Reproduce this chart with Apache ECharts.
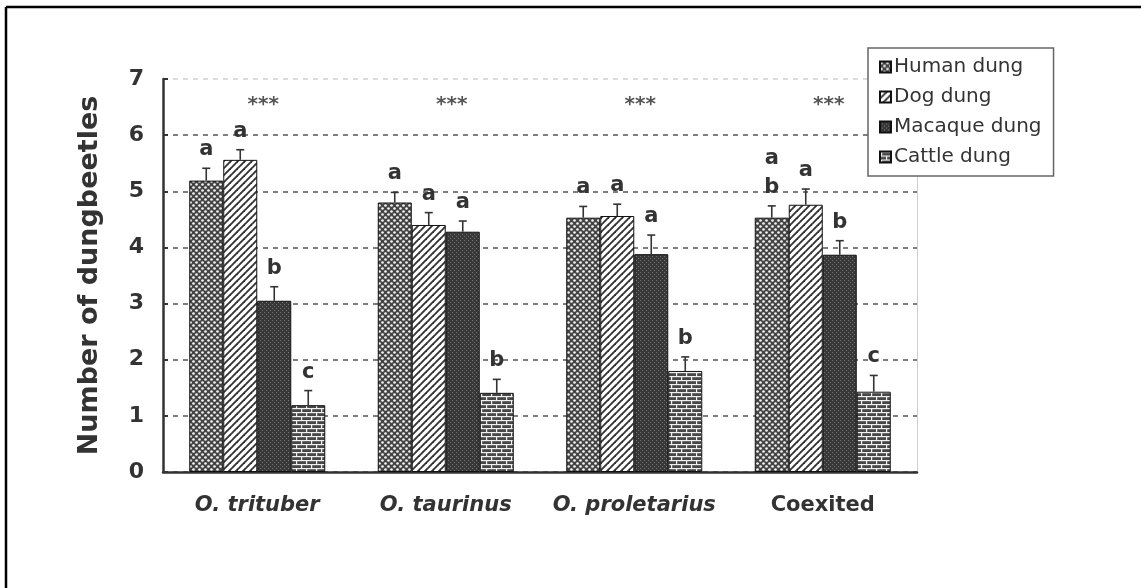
<!DOCTYPE html>
<html>
<head>
<meta charset="utf-8">
<title>Dung preference of dungbeetles</title>
<script src="https://cdn.jsdelivr.net/npm/echarts@6/dist/echarts.min.js"></script>
<style>
  html, body { margin: 0; padding: 0; background: #fff; }
  #chart { width: 1141px; height: 588px; }
</style>
</head>
<body>
<div id="chart"></div>
<script>
// ---- data ----
const categories = ['O. trituber', 'O. taurinus', 'O. proletarius', 'Coexited'];
const seriesNames = ['Human dung', 'Dog dung', 'Macaque dung', 'Cattle dung'];

const humanMean   = [5.19, 4.80, 4.53, 4.53];
const humanErr    = [0.22, 0.18, 0.20, 0.21];
const dogMean     = [5.56, 4.40, 4.56, 4.76];
const dogErr      = [0.18, 0.22, 0.21, 0.28];
const macaqueMean = [3.05, 4.28, 3.88, 3.87];
const macaqueErr  = [0.25, 0.19, 0.34, 0.25];
const cattleMean  = [1.19, 1.41, 1.80, 1.43];
const cattleErr   = [0.26, 0.24, 0.25, 0.29];

const humanLetters   = ['a', 'a', 'a', 'a\nb'];
const dogLetters     = ['a', 'a', 'a', 'a'];
const macaqueLetters = ['b', 'a', 'a', 'b'];
const cattleLetters  = ['c', 'b', 'b', 'c'];

const sigMarks = ['***', '***', '***', '***'];
const sigLevel = 6.57;

const yTicks = { min: 0, max: 7, step: 1 };

// ---- fill patterns ----
function tile(w, h, draw) {
  const c = document.createElement('canvas');
  c.width = w; c.height = h;
  draw(c.getContext('2d'), w, h);
  return { image: c, repeat: 'repeat' };
}
const dotted = tile(6, 6, (g, w, h) => {
  g.fillStyle = '#444'; g.fillRect(0, 0, w, h);
  g.fillStyle = '#f2f2f2';
  g.beginPath(); g.arc(1.5, 1.5, 1.35, 0, Math.PI * 2); g.fill();
  g.beginPath(); g.arc(4.5, 4.5, 1.35, 0, Math.PI * 2); g.fill();
});
const striped = tile(7, 7, (g, w, h) => {
  g.fillStyle = '#ffffff'; g.fillRect(0, 0, w, h);
  g.strokeStyle = '#333'; g.lineWidth = 1.9;
  for (const k of [0, 7, 14]) {
    g.beginPath(); g.moveTo(k - 7 - 1, 7 + 1); g.lineTo(k + 1, -1); g.stroke();
  }
});
const dense = tile(4, 4, (g, w, h) => {
  g.fillStyle = '#383838'; g.fillRect(0, 0, w, h);
  g.fillStyle = '#777';
  g.fillRect(0, 0, 1, 1); g.fillRect(2, 2, 1, 1);
});
const brick = tile(10, 8, (g, w, h) => {
  g.fillStyle = '#474747'; g.fillRect(0, 0, w, h);
  g.fillStyle = '#f0f0f0';
  g.fillRect(0, 0, w, 1.2); g.fillRect(0, 4, w, 1.2);
  g.fillRect(1, 0, 1.2, 4); g.fillRect(6, 4, 1.2, 4);
});
const patterns = [dotted, striped, dense, brick];

// ---- series ----
const BAR_W = 34;
const means = [humanMean, dogMean, macaqueMean, cattleMean];
const errs = [humanErr, dogErr, macaqueErr, cattleErr];
const letters = [humanLetters, dogLetters, macaqueLetters, cattleLetters];
const TEXT = '#333';

const barSeries = seriesNames.map((name, s) => ({
  name,
  type: 'bar',
  data: means[s],
  barWidth: BAR_W,
  barGap: '0%',
  itemStyle: { color: patterns[s], borderColor: '#111', borderWidth: 1 },
  emphasis: { disabled: true },
  z: 2
}));

const errSeries = seriesNames.map((name, s) => ({
  type: 'custom',
  z: 5,
  silent: true,
  data: means[s].map((m, i) => [i, m, errs[s][i]]),
  encode: { x: 0, y: 1 },
  renderItem(params, api) {
    const ci = api.value(0), m = api.value(1), e = api.value(2);
    const base = api.coord([ci, m]);
    const top = api.coord([ci, m + e]);
    const x = base[0] + (s - 1.5) * BAR_W;
    return {
      type: 'group',
      children: [
        { type: 'line', shape: { x1: x, y1: base[1], x2: x, y2: top[1] },
          style: { stroke: '#333', lineWidth: 1.6 } },
        { type: 'line', shape: { x1: x - 4, y1: top[1], x2: x + 4, y2: top[1] },
          style: { stroke: '#333', lineWidth: 1.6 } },
        { type: 'text', x: x, y: top[1] - 4,
          style: { text: letters[s][params.dataIndex], fill: TEXT,
                   font: 'bold 21px "DejaVu Sans"', lineHeight: 29,
                   align: 'center', verticalAlign: 'bottom' } }
      ]
    };
  }
}));

const sigSeries = {
  type: 'custom',
  z: 5,
  silent: true,
  data: sigMarks.map((t, i) => [i, sigLevel]),
  encode: { x: 0, y: 1 },
  renderItem(params, api) {
    const p = api.coord([api.value(0), api.value(1)]);
    return { type: 'text', x: p[0] + 6, y: p[1] + 2,
      style: { text: sigMarks[params.dataIndex], fill: '#555',
               font: 'bold 20px "DejaVu Sans"', align: 'center', verticalAlign: 'middle' } };
  }
};

const chart = echarts.init(document.getElementById('chart'), null, { renderer: 'canvas' });
chart.setOption({
  animation: false,
  backgroundColor: '#fff',
  grid: { left: 163, right: 224, top: 79, bottom: 116 },
  legend: {
    data: seriesNames,
    orient: 'vertical',
    left: 868, top: 48,
    padding: [9, 12, 9, 11],
    itemWidth: 11, itemHeight: 11,
    itemGap: 10,
    icon: 'rect',
    backgroundColor: '#fff',
    borderColor: '#666', borderWidth: 1.5,
    textStyle: { fontFamily: 'DejaVu Sans', fontSize: 20, color: TEXT, padding: [0, 0, 0, -2] },
    selectedMode: false,
    z: 10
  },
  xAxis: {
    type: 'category',
    data: categories,
    axisLine: { lineStyle: { color: '#333', width: 2.5 } },
    axisTick: { inside: true, length: 6, lineStyle: { color: '#333', width: 2 } },
    axisLabel: {
      margin: 23,
      formatter: v => v.startsWith('O.') ? '{i|' + v + '}' : '{n|' + v + '}',
      rich: {
        i: { fontFamily: 'DejaVu Sans', fontStyle: 'italic', fontWeight: 600, fontSize: 21, color: TEXT },
        n: { fontFamily: 'DejaVu Sans', fontWeight: 600, fontSize: 21, color: TEXT }
      }
    }
  },
  yAxis: [{
    type: 'value',
    min: yTicks.min, max: yTicks.max, interval: yTicks.step,
    name: 'Number of dungbeetles',
    nameLocation: 'middle',
    nameGap: 60,
    nameTextStyle: { fontFamily: 'DejaVu Sans', fontWeight: 'bold', fontSize: 27, color: TEXT },
    axisLine: { show: true, lineStyle: { color: '#333', width: 2.5 } },
    axisTick: { show: true, inside: true, length: 5, lineStyle: { color: '#333', width: 2 } },
    axisLabel: { margin: 19, fontFamily: 'DejaVu Sans', fontWeight: 'bold', fontSize: 22, color: TEXT },
    splitLine: { show: true, lineStyle: {
      type: [5, 5], width: 1.5,
      color: ['#555', '#555', '#555', '#555', '#555', '#555', '#555', '#cfcfcf'] } }
  }, {
    type: 'value',
    position: 'right',
    min: yTicks.min, max: yTicks.max, interval: yTicks.step,
    axisLine: { show: true, lineStyle: { color: '#d0d0d0', width: 1 } },
    axisTick: { show: false }, axisLabel: { show: false }, splitLine: { show: false }
  }],
  graphic: [
    { type: 'line', shape: { x1: 6, y1: 7, x2: 1141, y2: 7 }, style: { stroke: '#000', lineWidth: 2.5 } },
    { type: 'line', shape: { x1: 6, y1: 7, x2: 6, y2: 588 }, style: { stroke: '#000', lineWidth: 2.5 } }
  ],
  series: [...barSeries, ...errSeries, sigSeries]
});
</script>
</body>
</html>
